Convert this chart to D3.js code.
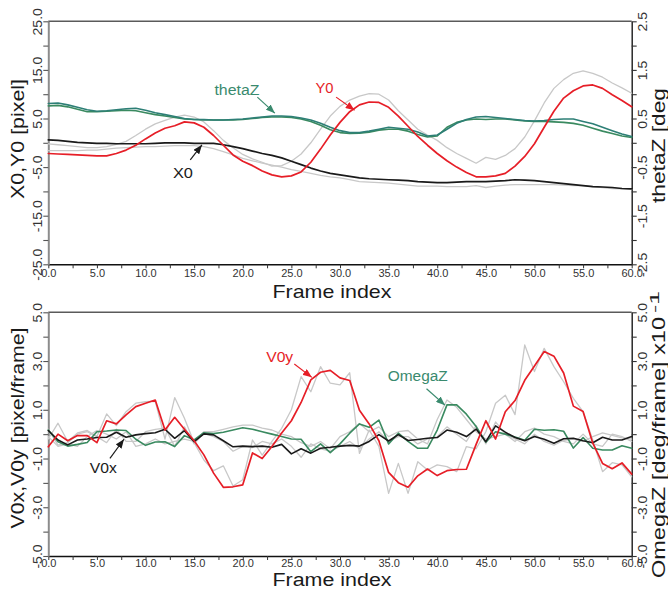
<!DOCTYPE html>
<html><head><meta charset="utf-8">
<script src="https://cdn.jsdelivr.net/npm/d3@7"></script>
<style>
html,body{margin:0;padding:0;background:#fff;}
svg{display:block;}
text{font-family:"Liberation Sans",Arial,Helvetica,sans-serif;}
</style></head><body>
<svg id="chart" width="668" height="599"></svg>
<script>
// ---------------- data ----------------
const frames = d3.range(0, 61);

// top panel: X0, Y0 [pixel] (left axis), thetaZ [deg] (right axis)
const x0 = [0.6,0.5,0.3,0.1,0.0,-0.1,-0.1,-0.2,-0.2,-0.2, -0.2,-0.1,0.0,0.0,0.0,-0.1,-0.1,-0.1,-0.4,-0.8,
  -1.2,-1.7,-2.2,-2.6,-3.1,-3.8,-4.5,-5.2,-5.8,-6.3, -6.6,-6.9,-7.2,-7.4,-7.5,-7.6,-7.7,-7.8,-8.0,-8.1,
  -8.2,-8.2,-8.1,-8.0,-8.0,-8.0,-7.9,-7.8,-7.6,-7.7, -7.8,-8.0,-8.2,-8.4,-8.6,-8.8,-9.0,-9.1,-9.2,-9.4,-9.5];
const x0Raw = [-1.6,-1.6,-1.6,-1.6,-1.5,-1.5,-1.3,-1.1,-1.0,-0.9, -0.8,-0.8,-0.7,-0.6,-0.6,-0.6,-0.8,-1.2,-1.8,-2.5,
  -3.2,-3.7,-4.2,-4.6,-5.0,-5.5,-5.9,-6.3,-6.7,-7.0, -7.2,-7.6,-8.0,-8.1,-8.2,-8.3,-8.5,-8.7,-8.9,-8.9,
  -8.9,-9.0,-9.0,-9.0,-8.8,-9.2,-8.9,-8.7,-8.6,-8.6, -8.6,-8.6,-8.6,-8.7,-8.8,-8.8,-9.0,-9.2,-9.4,-9.5,-9.6];
const y0 = [-2.2,-2.3,-2.4,-2.5,-2.6,-2.7,-2.7,-2.2,-1.5,-0.5, 0.8,2.0,3.0,3.5,4.3,4.1,3.2,1.5,-0.5,-2.5,
  -3.8,-4.7,-5.8,-6.6,-7.0,-6.8,-6.0,-4.0,-1.3,1.6, 4.2,6.4,7.8,8.4,8.3,7.3,5.5,3.4,1.3,-0.5,
  -2.2,-3.7,-5.0,-6.1,-7.0,-7.0,-6.8,-6.3,-4.8,-2.8, -0.2,3.2,6.5,9.2,10.7,11.7,11.9,11.2,9.9,8.7,7.4];
const y0Raw = [-0.2,-0.4,-0.6,-0.8,-1.0,-1.0,-0.8,-0.3,0.3,1.5, 2.8,3.9,4.6,5.3,5.7,5.3,4.3,2.5,0.5,-1.0,
  -2.4,-3.3,-4.0,-4.8,-4.7,-3.8,-2.3,0.0,2.8,5.5, 7.5,8.8,9.6,10.1,10.0,8.8,6.6,4.7,2.8,1.6,
  0.5,-1.0,-2.2,-3.2,-4.2,-3.0,-3.4,-2.6,-1.2,1.2, 4.5,8.2,11.2,13.0,14.3,14.8,14.3,13.5,12.3,11.3,10.2];
const thetaZa = [0.81,0.82,0.78,0.73,0.68,0.65,0.66,0.68,0.70,0.71, 0.67,0.62,0.58,0.54,0.50,0.48,0.48,0.47,0.47,0.48,
  0.49,0.51,0.53,0.55,0.55,0.54,0.51,0.47,0.40,0.32, 0.25,0.21,0.21,0.24,0.28,0.32,0.30,0.28,0.22,0.14,
  0.16,0.28,0.40,0.48,0.53,0.54,0.52,0.50,0.48,0.46, 0.45,0.46,0.48,0.49,0.49,0.44,0.39,0.32,0.25,0.18,0.13];
const thetaZb = [0.76,0.77,0.74,0.69,0.64,0.64,0.65,0.66,0.67,0.66, 0.62,0.58,0.55,0.52,0.49,0.48,0.47,0.47,0.47,0.47,
  0.48,0.50,0.52,0.53,0.53,0.52,0.49,0.44,0.36,0.27, 0.21,0.19,0.20,0.22,0.26,0.28,0.28,0.24,0.17,0.12,
  0.14,0.32,0.42,0.47,0.49,0.48,0.49,0.49,0.47,0.45, 0.44,0.44,0.43,0.42,0.40,0.36,0.30,0.24,0.19,0.14,0.11];

// bottom panel: V0x, V0y [pixel/frame] (left), OmegaZ [deg/frame x10^-1] (right)
const v0x = [0.15,-0.24,-0.44,-0.24,-0.2,-0.14,-0.13,0.08,-0.13,-0.03, 0.02,0.06,0.2,-0.17,0.14,-0.31,0.01,-0.03,-0.27,-0.52,
  -0.49,-0.51,-0.49,-0.54,-0.42,-0.81,-0.6,-0.78,-0.58,-0.54, -0.49,-0.46,-0.49,-0.3,-0.02,-0.28,-0.02,-0.26,-0.22,-0.17,
  -0.14,0.17,0.08,-0.1,0.21,-0.31,0.34,0.08,-0.14,-0.27, -0.1,-0.21,-0.37,-0.19,-0.17,-0.27,-0.35,-0.13,-0.24,-0.24,-0.1];
const v0xRaw = [0.2,-0.45,-0.35,0.0,0.1,-0.1,-0.35,0.2,-0.3,-0.3, 0.1,0.2,0.25,-0.5,0.3,-0.4,0.05,-0.1,-0.3,-0.7,
  -0.5,-0.55,-0.3,-0.4,-0.2,-0.5,-0.95,-0.4,-0.6,-0.7, -0.5,-0.3,-0.6,-0.2,0.1,-0.3,-0.1,-0.1,-0.4,-0.2,
  -0.1,0.3,0.0,-0.3,0.35,-0.4,0.5,0.0,-0.2,-0.4, 0.0,-0.3,-0.45,-0.25,-0.2,-0.3,-0.1,0.05,-0.05,-0.15,-0.2];
const v0y = [-0.52,0.0,-0.27,-0.06,-0.06,-0.35,0.55,0.42,0.79,1.13, 1.27,1.40,0.17,0.69,0.2,-0.27,-0.85,-1.6,-2.18,-2.16,
  -2.08,-0.77,-1.0,-0.51,0.05,0.55,1.3,2.23,2.54,2.62, 2.31,2.2,0.98,0.42,-0.27,-1.57,-1.99,-2.18,-1.71,-1.43,
  -1.7,-1.5,-1.45,-1.44,-0.42,0.55,-0.2,0.92,1.38,2.21, 2.8,3.39,3.2,2.51,1.15,0.93,-0.37,-1.2,-1.42,-1.18,-1.64];
const v0yRaw = [-0.2,0.45,-0.3,0.05,0.15,-0.1,0.83,0.35,0.92,1.27, 1.33,1.35,-0.2,1.5,0.65,-0.35,-1.06,-1.5,-1.3,-2.13,
  -1.87,-0.24,-0.86,-0.3,0.24,1.0,2.36,1.74,2.77,2.09, 2.02,2.52,-0.79,0.17,-0.5,-2.43,-1.2,-2.43,-1.13,-1.47,
  -1.26,-1.33,-1.54,-0.51,-0.6,0.1,1.27,1.6,0.8,3.66, 2.57,3.52,2.77,2.15,1.47,0.92,-0.24,-1.54,-1.17,-1.26,-1.75];
const omegaZ = [0.17,-0.31,-0.49,-0.42,-0.34,0.1,0.13,0.17,0.15,-0.21, -0.46,-0.32,-0.31,-0.51,-0.06,-0.24,0.06,0.02,0.08,0.17,
  0.26,0.2,0.1,0.0,-0.1,-0.2,-0.21,-0.72,-0.4,-0.76, -0.4,0.04,0.42,0.28,0.58,-0.4,0.04,-0.3,-0.58,-0.58,
  0.17,1.2,1.2,0.82,0.31,-0.33,0.1,0.0,-0.12,-0.25, 0.2,0.16,0.18,0.12,-0.57,-0.14,-0.58,-0.65,-0.65,-0.48,-0.58];
const omegaZRaw = [-0.1,-0.5,-0.4,-0.5,-0.1,0.15,0.0,-0.2,0.1,-0.5, -0.4,-0.2,-0.4,-0.3,-0.2,-0.3,0.1,0.1,0.2,0.3,
  0.37,0.37,0.25,0.17,0.0,-0.1,-0.35,-0.5,-0.3,-0.6, -0.1,0.1,0.44,0.1,0.3,-0.1,0.1,0.15,-0.2,-0.4,
  0.6,1.4,1.1,0.6,0.1,-0.2,-0.1,0.0,-0.3,0.1, 0.25,0.0,-0.1,-0.3,-0.4,0.0,-0.4,-0.5,0.0,-0.1,-0.3];

// ticks
const xTicks = d3.range(0, 60.01, 2.5);
const topLeftTicks = d3.range(-25, 25.01, 5);
const topLeftLabels = [25, 15, 5, -5, -15, -25];
const topRightTicks = d3.range(-2.5, 2.51, 0.5);
const topRightLabels = [2.5, 1.5, 0.5, -0.5, -1.5, -2.5];
const botTicks = d3.range(-5, 5.01, 1);
const botLabels = [5, 3, 1, -1, -3, -5];

// annotations: text position (frame, value) and arrow (fromF, fromV, toF, toV)
const topNotes = [
  {t:"thetaZ", f:19.4, v:9.8, a:[21.5, 9.4, 23.3, 6.1], c:"green", len:45},
  {t:"Y0", f:28.4, v:10.2, a:[29.6, 9.4, 31.5, 6.7], c:"red", len:18},
  {t:"X0", f:13.85, v:-7.3, a:[14.6, -3.5, 15.8, -0.45], c:"black", len:20}
];
const botNotes = [
  {t:"V0y", f:23.8, v:2.96, a:[25.3, 2.88, 27.1, 2.33], c:"red", len:27},
  {t:"OmegaZ", f:38.0, v:2.17, a:[38.9, 1.86, 40.8, 1.19], c:"green", len:60},
  {t:"V0x", f:5.65, v:-1.59, a:[6.34, -0.99, 7.78, -0.21], c:"black", len:27}
];

// ---------------- drawing ----------------
const COL = {red:"#e61e27", green:"#3a8a60", teal:"#2d7f76", gray:"#c8c8c8", black:"#1a1a1a", txtGreen:"#3a8a6e"};
const svg = d3.select("#chart");
const defs = svg.append("defs");
[["red",COL.red],["green",COL.txtGreen],["black",COL.black]].forEach(([k,c]) => {
  defs.append("marker").attr("id","ah-"+k).attr("viewBox","0 0 10 8")
    .attr("refX",10).attr("refY",4).attr("markerWidth",9).attr("markerHeight",7.2)
    .attr("markerUnits","userSpaceOnUse").attr("orient","auto")
    .append("path").attr("d","M0,0 L10,4 L0,8 Z").attr("fill",c);
});

const x = d3.scaleLinear().domain([0, 60]).range([48.3, 631.7]);
const yTL = d3.scaleLinear().domain([-25, 25]).range([264.3, 21.3]);
const yTR = d3.scaleLinear().domain([-2.5, 2.5]).range([264.3, 21.3]);
const yBL = d3.scaleLinear().domain([-5, 5]).range([556, 312.3]);
const yBR = d3.scaleLinear().domain([-5, 5]).range([556, 312.3]);

const has = (arr, v) => arr.some(l => Math.abs(l - v) < 1e-6);

function stretch(sel, k) {
  sel.each(function() {
    const n = this.getComputedTextLength();
    if (n > 0) d3.select(this).attr("textLength", n * k).attr("lengthAdjust", "spacingAndGlyphs");
  });
}

function drawAxes(yl, yr, lTicks, lLabels, rTicks, rLabels, labY) {
  const [yb, yt] = yl.range();
  svg.append("line").attr("x1", x(0)).attr("x2", x(60)).attr("y1", yt).attr("y2", yt)
    .attr("stroke", "#5a5a5a").attr("stroke-width", 1.5);
  const gx = svg.append("g").attr("transform", `translate(0,${yb})`)
    .call(d3.axisBottom(x).tickValues(xTicks).tickSize(4).tickSizeOuter(0)
      .tickFormat(d => (Math.abs(d % 5) < 1e-6 ? d.toFixed(1) : "")));
  gx.select(".domain").attr("stroke", "#111").attr("stroke-width", 1.5);
  gx.selectAll(".tick line").attr("stroke", "#333").attr("stroke-width", 1);
  gx.selectAll(".tick text").attr("y", labY).attr("dy", 0).attr("font-size", 11)
    .attr("fill", "#333").attr("font-family", "Liberation Sans, Arial, sans-serif");
  const gl = svg.append("g").attr("transform", `translate(${x(0)},0)`)
    .call(d3.axisLeft(yl).tickValues(lTicks).tickSize(5).tickSizeOuter(0)
      .tickFormat(d => (has(lLabels, d) ? d.toFixed(1) : "")));
  gl.select(".domain").attr("stroke", "#8c8c8c").attr("stroke-width", 2);
  gl.selectAll(".tick line").attr("stroke", "#555").attr("stroke-width", 1.1);
  gl.selectAll(".tick text").attr("x", 0).attr("y", -6.3).attr("dy", 0)
    .attr("transform", "rotate(-90)").attr("text-anchor", "middle")
    .attr("font-size", 12).attr("fill", "#333").attr("font-family", "Liberation Sans, Arial, sans-serif")
    .call(stretch, 1.17);
  const gr = svg.append("g").attr("transform", `translate(${x(60)},0)`)
    .call(d3.axisRight(yr).tickValues(rTicks).tickSize(5).tickSizeOuter(0)
      .tickFormat(d => (has(rLabels, d) ? d.toFixed(1) : "")));
  gr.select(".domain").attr("stroke", "#1a1a1a").attr("stroke-width", 1.4);
  gr.selectAll(".tick line").attr("stroke", "#333").attr("stroke-width", 1.1);
  gr.selectAll(".tick text").attr("x", 0).attr("y", 15.3).attr("dy", 0)
    .attr("transform", "rotate(-90)").attr("text-anchor", "middle")
    .attr("font-size", 12).attr("fill", "#333").attr("font-family", "Liberation Sans, Arial, sans-serif")
    .call(stretch, 1.17);
}

function series(data, ys, color, w) {
  svg.append("path").datum(data)
    .attr("d", d3.line().x((d, i) => x(frames[i])).y(d => ys(d)))
    .attr("fill", "none").attr("stroke", color).attr("stroke-width", w)
    .attr("stroke-linejoin", "round").attr("stroke-linecap", "round");
}

function notes(list, ys) {
  list.forEach(n => {
    const c = n.c === "red" ? COL.red : n.c === "green" ? COL.txtGreen : COL.black;
    svg.append("text").attr("x", x(n.f)).attr("y", ys(n.v)).attr("text-anchor", "middle")
      .attr("font-size", 15.5).attr("fill", c)
      .attr("textLength", n.len).attr("lengthAdjust", "spacingAndGlyphs").text(n.t);
    svg.append("line").attr("x1", x(n.a[0])).attr("y1", ys(n.a[1]))
      .attr("x2", x(n.a[2])).attr("y2", ys(n.a[3]))
      .attr("stroke", c).attr("stroke-width", 1.2).attr("marker-end", `url(#ah-${n.c})`);
  });
}

function vtitle(txt, bx, cy, len, size, anchor) {
  return svg.append("text").attr("transform", `translate(${bx},${cy}) rotate(-90)`)
    .attr("text-anchor", anchor || "middle").attr("font-size", size).attr("fill", "#1a1a1a")
    .attr("textLength", len).attr("lengthAdjust", "spacingAndGlyphs").text(txt);
}
function htitle(txt, cx, by, len, size) {
  svg.append("text").attr("x", cx).attr("y", by).attr("text-anchor", "middle")
    .attr("font-size", size).attr("fill", "#1a1a1a")
    .attr("textLength", len).attr("lengthAdjust", "spacingAndGlyphs").text(txt);
}

// ---- top panel
drawAxes(yTL, yTR, topLeftTicks, topLeftLabels, topRightTicks, topRightLabels, 12.8);
series(x0Raw, yTL, COL.gray, 1.3);
series(y0Raw, yTL, COL.gray, 1.3);
series(thetaZb, yTR, COL.green, 1.6);
series(thetaZa, yTR, COL.teal, 1.6);
series(x0, yTL, COL.black, 1.7);
series(y0, yTL, COL.red, 1.7);
notes(topNotes, yTL);
vtitle("X0,Y0 [pixel]", 23.5, 139, 120, 19);
vtitle("thetaZ [deg", 664.5, 145.5, 115, 19);
htitle("Frame index", 332, 297.7, 119, 19);

// ---- bottom panel
drawAxes(yBL, yBR, botTicks, botLabels, botTicks, botLabels, 11.2);
series(v0yRaw, yBL, COL.gray, 1.3);
series(v0xRaw, yBL, COL.gray, 1.3);
series(omegaZRaw, yBR, COL.gray, 1.3);
series(omegaZ, yBR, COL.green, 1.6);
series(v0x, yBL, COL.black, 1.6);
series(v0y, yBL, COL.red, 1.7);
notes(botNotes, yBL);
vtitle("V0x,V0y [pixel/frame]", 23.5, 428, 201, 19);
vtitle("OmegaZ [deg/frame] x10", 664.5, 578, 261, 19, "start");
vtitle("-1", 658.5, 313, 22, 13, "start");
htitle("Frame index", 332, 586, 119, 18);
</script>
</body></html>
